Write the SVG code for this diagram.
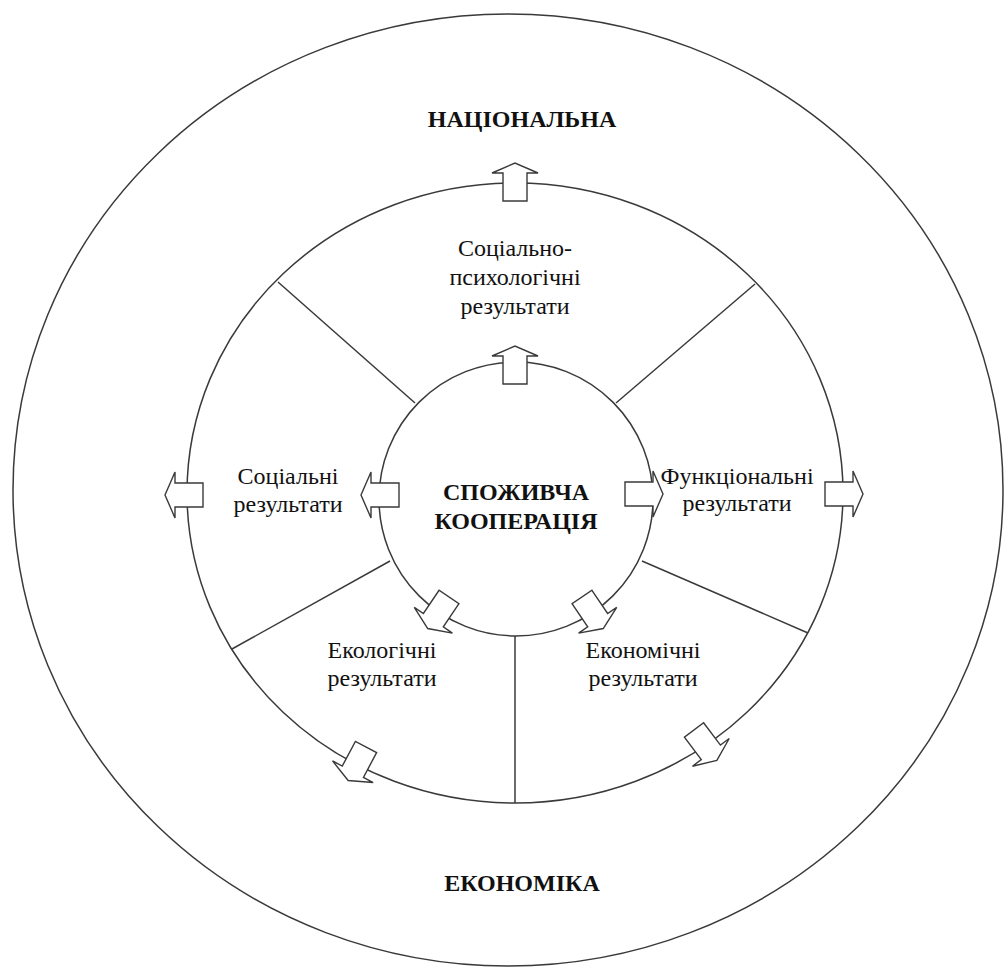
<svg xmlns="http://www.w3.org/2000/svg" width="1005" height="967" viewBox="0 0 1005 967">
<style>
.ln{fill:none;stroke:#3a3a3a;stroke-width:1.5}
.ar{fill:#fff;stroke:#3a3a3a;stroke-width:1.4;stroke-linejoin:miter}
text{font-family:'Liberation Serif','DejaVu Serif',serif;font-size:24px;fill:#111;text-anchor:middle}
.b{font-weight:bold}
</style>
<defs>
<path id="arrow" d="M0,-12 H28 V-23 L38,0 L28,23 V12 H0 Z"/>
</defs>
<rect width="1005" height="967" fill="#fff"/>
<g id="outer">
<ellipse class="ln" cx="508" cy="490" rx="495" ry="476"/>
<text class="b" x="522" y="127">НАЦІОНАЛЬНА</text>
<text class="b" x="522" y="891">ЕКОНОМІКА</text>
</g>
<g id="middle">
<ellipse class="ln" cx="515" cy="493" rx="328" ry="310"/>
<line class="ln" x1="415" y1="403" x2="278" y2="282"/>
<line class="ln" x1="616" y1="403" x2="755" y2="284"/>
<line class="ln" x1="390" y1="561" x2="232" y2="649"/>
<line class="ln" x1="642" y1="561" x2="808" y2="633"/>
<line class="ln" x1="515" y1="636" x2="515" y2="803"/>
</g>
<g id="sector-top">
<text x="515" y="256">Соціально-</text>
<text x="515" y="285">психологічні</text>
<text x="515" y="314">результати</text>
</g>
<g id="sector-left">
<text x="288" y="484">Соціальні</text>
<text x="288" y="512">результати</text>
</g>
<g id="sector-right">
<text x="737" y="484">Функціональні</text>
<text x="737" y="511">результати</text>
</g>
<g id="sector-lower-left">
<text x="382" y="658">Екологічні</text>
<text x="382" y="686">результати</text>
</g>
<g id="sector-lower-right">
<text x="643" y="658">Економічні</text>
<text x="643" y="686">результати</text>
</g>
<g id="center">
<circle class="ln" cx="516" cy="499" r="137" fill="#fff"/>
<text class="b" x="516" y="500">СПОЖИВЧА</text>
<text class="b" x="516" y="529">КООПЕРАЦІЯ</text>
</g>
<g id="connectors">
<use href="#arrow" class="ar" transform="translate(515,384) rotate(-90)"/>
<use href="#arrow" class="ar" transform="translate(515,201) rotate(-90)"/>
<use href="#arrow" class="ar" transform="translate(399,495) rotate(180)"/>
<use href="#arrow" class="ar" transform="translate(203,495) rotate(180)"/>
<use href="#arrow" class="ar" transform="translate(625,494)"/>
<use href="#arrow" class="ar" transform="translate(825,494)"/>
<use href="#arrow" class="ar" transform="translate(449,597) rotate(124)"/>
<use href="#arrow" class="ar" transform="translate(582,597) rotate(56)"/>
<use href="#arrow" class="ar" transform="translate(366,747) rotate(118)"/>
<use href="#arrow" class="ar" transform="translate(694,730) rotate(53)"/>
</g>
</svg>
